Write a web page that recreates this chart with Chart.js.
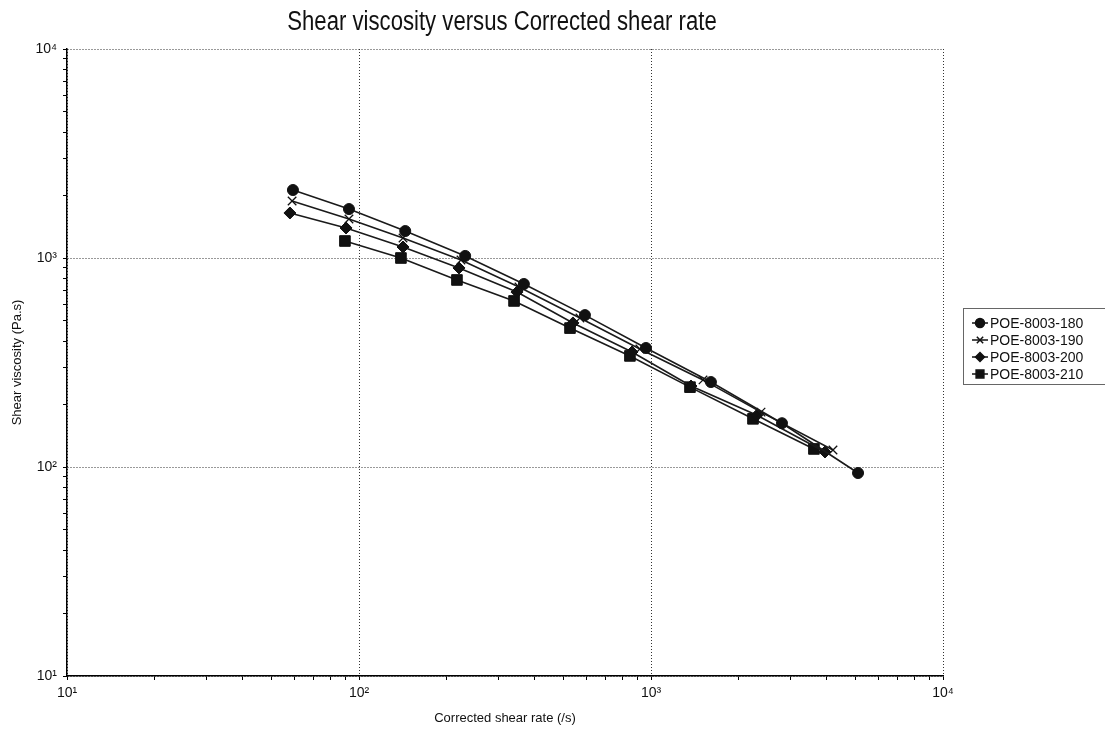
<!DOCTYPE html>
<html>
<head>
<meta charset="utf-8">
<script src="https://cdn.jsdelivr.net/npm/chart.js@4.4.1/dist/chart.umd.min.js"></script>
<style>
  html, body { margin: 0; padding: 0; background: #fff; }
  canvas { display: block; }
</style>
</head>
<body>
<canvas id="chart" width="1105" height="734"></canvas>
<script>
// --- Data ---
const seriesNames = ['POE-8003-180', 'POE-8003-190', 'POE-8003-200', 'POE-8003-210'];
const pointStyles = ['circle', 'crossRot', 'rectRot', 'rect'];

const rate180 = [59.4, 92.4, 144, 231, 367, 594, 961, 1604, 2809, 5117];
const visc180 = [2115, 1715, 1346, 1023, 751, 533, 371, 255, 162, 93.6];

const rate190 = [59, 92.4, 141.5, 223.5, 353, 571, 916, 1507, 2381, 4200];
const visc190 = [1875, 1537, 1247, 978, 727, 516, 367, 261, 183, 120.6];

const rate200 = [58, 90.3, 141.5, 220, 347.5, 540.5, 861, 1371, 2307, 3944];
const visc200 = [1642, 1392, 1129, 896, 687, 489, 355, 244, 177, 118];

const rate210 = [89.5, 139.2, 216.5, 339.6, 528, 847, 1360, 2235, 3614];
const visc210 = [1206, 1000, 785, 623, 462, 340, 241, 170, 122];

const decades = [10, 100, 1000, 10000];
const supDigits = { 1: '\u00b9', 2: '\u00b2', 3: '\u00b3', 4: '\u2074' };
const chartTitle = 'Shear viscosity versus Corrected shear rate';

const rates = [rate180, rate190, rate200, rate210];
const viscs = [visc180, visc190, visc200, visc210];
const pointRadius = [5.5, 6, 6, 7.5];

function isMajor(v) {
  return decades.some((d) => Math.abs(v - d) < 1e-6 * d);
}

function logTicks(scale) {
  const ticks = [];
  for (let e = 1; e <= 4; e++) {
    const base = Math.pow(10, e);
    if (e === 4) { ticks.push({ value: base, major: true }); break; }
    for (let m = 1; m <= 9; m++) ticks.push({ value: m * base, major: m === 1 });
  }
  scale.ticks = ticks;
}

function tickLabel(value) {
  if (!isMajor(value)) return '';
  const e = Math.round(Math.log10(value));
  return '10' + supDigits[e];
}

function gridColor(ctx) {
  if (!ctx.tick) return 'rgba(0,0,0,0)';
  return isMajor(ctx.tick.value) ? '#333' : 'rgba(0,0,0,0)';
}

const font = "'Liberation Sans', Arial, 'DejaVu Sans', sans-serif";

const datasets = seriesNames.map((name, i) => ({
  label: name,
  data: rates[i].map((x, k) => ({ x, y: viscs[i][k] })),
  borderColor: '#1a1a1a',
  borderWidth: 1.6,
  backgroundColor: '#111',
  pointStyle: pointStyles[i],
  pointRadius: pointRadius[i],
  pointBackgroundColor: '#111',
  pointBorderColor: '#111',
  pointBorderWidth: i === 1 ? 1.3 : 1,
  tension: 0,
  fill: false,
}));

// condensed title, like the narrow face in the original
const narrowTitle = {
  id: 'narrowTitle',
  afterDraw(chart) {
    const ctx = chart.ctx;
    ctx.save();
    ctx.font = '27px ' + font;
    ctx.fillStyle = '#111';
    ctx.textAlign = 'center';
    ctx.textBaseline = 'alphabetic';
    ctx.translate(502, 30);
    ctx.scale(0.82, 1);
    ctx.fillText(chartTitle, 0, 0);
    ctx.restore();
  },
};

// legend drawn at a fixed spot right of the plot
const boxLegend = {
  id: 'boxLegend',
  afterDraw(chart) {
    const ctx = chart.ctx;
    const left = 963, top = 308, rowH = 17;
    ctx.save();
    ctx.strokeStyle = '#666';
    ctx.lineWidth = 1;
    ctx.strokeRect(left + 0.5, top + 0.5, 150, 76);
    ctx.font = '14px ' + font;
    ctx.textBaseline = 'middle';
    chart.data.datasets.forEach((ds, i) => {
      const y = top + 15 + i * rowH;
      ctx.strokeStyle = '#111';
      ctx.lineWidth = 1.5;
      ctx.beginPath();
      ctx.moveTo(972, y);
      ctx.lineTo(988, y);
      ctx.stroke();
      ctx.fillStyle = '#111';
      Chart.helpers.drawPoint(ctx, {
        pointStyle: ds.pointStyle,
        radius: i === 3 ? 5.5 : 4.5,
        rotation: 0,
        borderWidth: 1,
      }, 980, y);
      ctx.fillStyle = '#111';
      ctx.fillText(ds.label, 990, y + 1);
    });
    ctx.restore();
  },
};

new Chart(document.getElementById('chart'), {
  type: 'line',
  data: { datasets },
  plugins: [narrowTitle, boxLegend],
  options: {
    responsive: false,
    animation: false,
    devicePixelRatio: 1,
    layout: { padding: { left: 0, right: 162, top: 49, bottom: 0 } },
    plugins: {
      legend: { display: false },
      tooltip: { enabled: false },
      title: { display: false },
    },
    scales: {
      x: {
        type: 'logarithmic',
        min: 10,
        max: 10000,
        afterBuildTicks: logTicks,
        afterFit(scale) { scale.height = 58; },
        ticks: {
          autoSkip: false,
          maxRotation: 0,
          padding: 5,
          color: '#111',
          font: { family: font, size: 14 },
          callback: tickLabel,
        },
        grid: { color: gridColor, tickColor: '#000', tickLength: 4, lineWidth: 1 },
        border: { display: true, color: '#000', width: 1.5, dash: [1, 2] },
        title: {
          display: true,
          text: 'Corrected shear rate (/s)',
          color: '#111',
          font: { family: font, size: 13 },
          padding: { top: 0, bottom: 8 },
        },
      },
      y: {
        type: 'logarithmic',
        min: 10,
        max: 10000,
        afterBuildTicks: logTicks,
        afterFit(scale) { scale.width = 67; },
        ticks: {
          autoSkip: false,
          padding: 6,
          color: '#111',
          font: { family: font, size: 14 },
          callback: tickLabel,
        },
        grid: { color: gridColor, tickColor: '#000', tickLength: 4, lineWidth: 1 },
        border: { display: true, color: '#000', width: 1.5, dash: [1, 2] },
        title: {
          display: true,
          text: 'Shear viscosity (Pa.s)',
          color: '#111',
          font: { family: font, size: 13 },
          padding: { top: 10, bottom: 0 },
        },
      },
    },
  },
});
</script>
</body>
</html>
